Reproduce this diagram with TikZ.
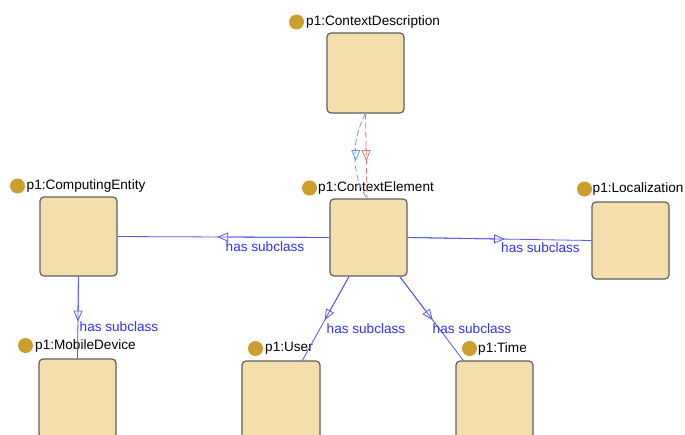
\documentclass[tikz,border=0pt]{standalone}
\usepackage{fontspec}
\setmainfont{Liberation Sans}
\usetikzlibrary{arrows.meta,calc}
\definecolor{boxfill}{RGB}{244,223,172}
\definecolor{boxdraw}{RGB}{96,96,96}
\definecolor{dotcol}{RGB}{205,158,45}
\definecolor{edgecol}{RGB}{85,85,250}
\definecolor{labcol}{RGB}{50,50,240}
\definecolor{dblue}{RGB}{105,155,210}
\definecolor{dred}{RGB}{222,115,115}
\tikzset{
  cls/.style={draw=boxdraw, fill=boxfill, line width=1.2pt, rounded corners=4pt, minimum width=77pt, minimum height=78pt, inner sep=0pt},
  dot/.style={circle, fill=dotcol, minimum size=15pt, inner sep=0pt},
  clsname/.style={anchor=west, inner sep=0pt, font=\fontsize{13.6}{16}\selectfont},
  edge/.style={draw=edgecol, line width=0.8pt},
  subarrow/.style={edgecol, line width=0.8pt, -{Triangle[open, length=11pt, width=9pt]}},
  sublabel/.style={text=labcol, inner sep=0pt, font=\fontsize{13.6}{16}\selectfont},
}
\begin{document}
\begin{tikzpicture}[x=1pt, y=-1pt]
\useasboundingbox (0,0) rectangle (685,434);
\clip (0,0) rectangle (685,434);
\fill[white] (0,0) rectangle (685,434);
% class boxes
\node[cls, minimum height=80pt] (cd) at (365.5,73) {};
\node[cls, minimum height=77pt] (ce) at (368.5,237.5) {};
\node[cls, minimum height=79pt] (compe) at (78.5,236.5) {};
\node[cls, minimum height=77pt] (loc) at (630.5,240.5) {};
\node[cls, minimum height=79pt] (md) at (77.5,398.5) {};
\node[cls, minimum width=78pt, minimum height=79pt] (user) at (281,400.5) {};
\node[cls, minimum height=79pt] (time) at (494.5,400.5) {};
% class labels
\node[dot] (dcd) at (296.5,22) {};
\node[clsname] (lcd) at (306,21.5) {p1:ContextDescription};
\node[dot] (dce) at (309.5,188) {};
\node[clsname] (lce) at (318,188) {p1:ContextElement};
\node[dot] (dcompe) at (17.5,186) {};
\node[clsname] (lcompe) at (26.5,186) {p1:ComputingEntity};
\node[dot] (dloc) at (584.5,189) {};
\node[clsname] (lloc) at (592.5,189) {p1:Localization};
\node[dot] (dmd) at (25.5,345.5) {};
\node[clsname] (lmd) at (35,346) {p1:MobileDevice};
\node[dot] (duser) at (255.5,348.5) {};
\node[clsname] (luser) at (265,348.5) {p1:User};
\node[dot] (dtime) at (469.5,348.5) {};
\node[clsname] (ltime) at (478,348.5) {p1:Time};
% dashed connectors between ContextDescription and ContextElement
\coordinate (cdb) at (cd.south);
\coordinate (cet) at ($(ce.north)+(-1.5,0)$);
\draw[dred, line width=0.8pt, dash pattern=on 6pt off 3pt] (cdb) -- (cet);
\draw[dred, line width=0.8pt, -{Triangle[open, length=11pt, width=9pt]}] ($(cdb)!0.4!(cet)$) -- ($(cdb)!0.56!(cet)$);
\draw[dblue, line width=0.8pt, dash pattern=on 6pt off 3pt] (cdb) .. controls (351,140) and (351,175) .. (cet);
\coordinate (bA) at (355.8,149);
\coordinate (bB) at (355.8,161);
\draw[dblue, line width=0.8pt, -{Triangle[open, length=11pt, width=9pt]}] (bA) -- (bB);
% has subclass edges
\coordinate (ces1) at ($(ce.south west)!0.25!(ce.south east)$);
\coordinate (ces2) at ($(ce.south west)!0.9!(ce.south east)$);
\coordinate (usert) at ($(user.north west)!0.77!(user.north east)$);
\coordinate (timet) at ($(time.north west)!0.1!(time.north east)$);
\draw[edge] (ce.west) -- (compe.east);
\draw[subarrow] (ce.west) -- ($(ce.west)!0.53!(compe.east)$);
\draw[edge] (ce.east) -- (loc.west);
\draw[subarrow] (ce.east) -- ($(ce.east)!0.53!(loc.west)$);
\draw[edge] (compe.south) -- (md.north);
\draw[subarrow] (compe.south) -- ($(compe.south)!0.55!(md.north)$);
\draw[edge] (ces1) -- (usert);
\draw[subarrow] (ces1) -- ($(ces1)!0.52!(usert)$);
\draw[edge] (ces2) -- (timet);
\draw[subarrow] (ces2) -- ($(ces2)!0.52!(timet)$);
% edge labels
\node[sublabel] (l1) at (265,247) {has subclass};
\node[sublabel] (l2) at (540.5,248) {has subclass};
\node[sublabel] (l3) at (119,327) {has subclass};
\node[sublabel] (l4) at (366,329) {has subclass};
\node[sublabel] (l5) at (472,329) {has subclass};
\end{tikzpicture}
\end{document}
